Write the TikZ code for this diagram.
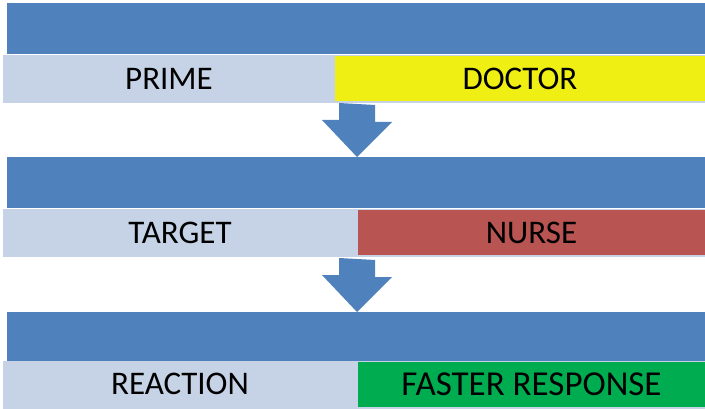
\documentclass[tikz,border=0pt]{standalone}
\usepackage{fontspec}
\setmainfont{Carlito}
\definecolor{barblue}{HTML}{4F81BD}
\definecolor{barlight}{HTML}{C6D3E6}
\definecolor{docyellow}{HTML}{EFEF14}
\definecolor{nursered}{HTML}{B85452}
\definecolor{respgreen}{HTML}{00AC50}
\tikzset{
  band/.style={fill=barblue, draw=none, anchor=north west, inner sep=0pt, outer sep=0pt, minimum height=51pt, minimum width=698pt},
  lightbar/.style={fill=barlight, draw=none, anchor=north west, inner sep=0pt, outer sep=0pt, minimum height=48pt, minimum width=702pt},
  label/.style={font=\fontsize{33}{36}\selectfont, text=black, inner sep=0pt},
  colbox/.style={draw=none, anchor=north west, inner sep=0pt, outer sep=0pt, minimum height=45pt, font=\fontsize{33}{36}\selectfont, text=black},
  downarrow/.style={fill=barblue, draw=none}
}
\begin{document}
\begin{tikzpicture}[x=1pt,y=-1pt]
\useasboundingbox[fill=white] (0,0) rectangle (705,409);
% row 1
\node[band] (b1) at (7,3) {};
\node[lightbar] (l1) at (3,55) {};
\node[colbox, fill=docyellow, minimum width=370pt] (c1) at (335,56) {DOCTOR};
\node[label] (t1) at (169,79) {PRIME};
% row 2
\node[band] (b2) at (7,157) {};
\node[lightbar] (l2) at (3,209) {};
\node[colbox, fill=nursered, minimum width=347pt] (c2) at (358,210) {NURSE};
\node[label] (t2) at (180,233) {TARGET};
% row 3
\node[band] (b3) at (7,312) {};
\node[lightbar] (l3) at (3,361) {};
\node[colbox, fill=respgreen, minimum width=347pt, font=\fontsize{35}{38}\selectfont] (c3) at (358,362) {FASTER RESPONSE};
\node[label] (t3) at (180,384) {REACTION};
% arrows
\coordinate (a1) at (357,103);
\coordinate (a2) at (357,258);
\fill[downarrow] (a1) ++(-18,0) -- ++(0,17) -- ++(-17,0) -- (b2.north west -| a1) -- ++(35,-35) -- ++(-17,0) -- ++(0,-17) -- cycle;
\fill[downarrow] (a2) ++(-18,0) -- ++(0,17) -- ++(-17,0) -- (b3.north west -| a2) -- ++(35,-35) -- ++(-17,0) -- ++(0,-17) -- cycle;
\end{tikzpicture}
\end{document}
